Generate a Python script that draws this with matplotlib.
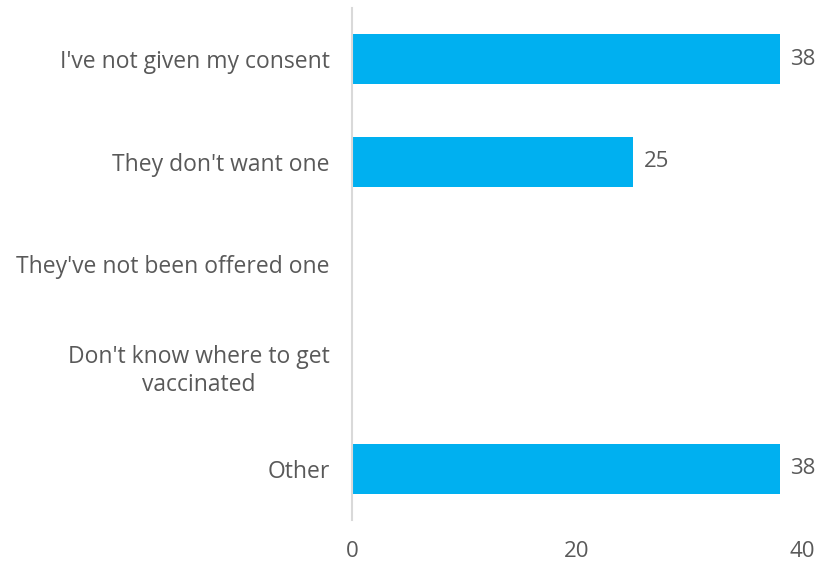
import matplotlib.pyplot as plt

plt.rcParams['font.family'] = ['Open Sans', 'DejaVu Sans']

categories = ["I've not given my consent", "They don't want one",
              "They've not been offered one", "Don't know where to get\nvaccinated",
              "Other"]
values = [38, 25, 0, 0, 38]
labels = ["38", "25", "", "", "38"]
xticks = [0, 20, 40]

grey = '#595959'
fig = plt.figure(figsize=(8.32, 5.69), dpi=100)
ax = fig.add_axes([0.423, 0.086, 0.541, 0.9])

ypos = range(len(categories))
bars = ax.barh(ypos, values, height=0.49, color='#00B0F0', zorder=2)
for b, lab in zip(bars, labels):
    if lab:
        ax.text(b.get_width() + 0.9, b.get_y() + b.get_height() / 2, lab,
                va='center', ha='left', fontsize=16, color=grey)

ax.set_xlim(0, 40)
ax.set_ylim(4.5, -0.5)
ax.set_xticks(xticks)
ax.set_yticks(list(ypos))
ax.set_yticklabels(categories, multialignment='center')
ax.tick_params(axis='both', length=0, labelsize=16.5, labelcolor=grey)
ax.tick_params(axis='y', pad=16)
ax.tick_params(axis='x', labelsize=16, pad=15)
for s in ['top', 'right', 'bottom']:
    ax.spines[s].set_visible(False)
ax.spines['left'].set_color('#d9d9d9')
ax.spines['left'].set_linewidth(1.5)

fig.savefig('out.png', dpi=100)
